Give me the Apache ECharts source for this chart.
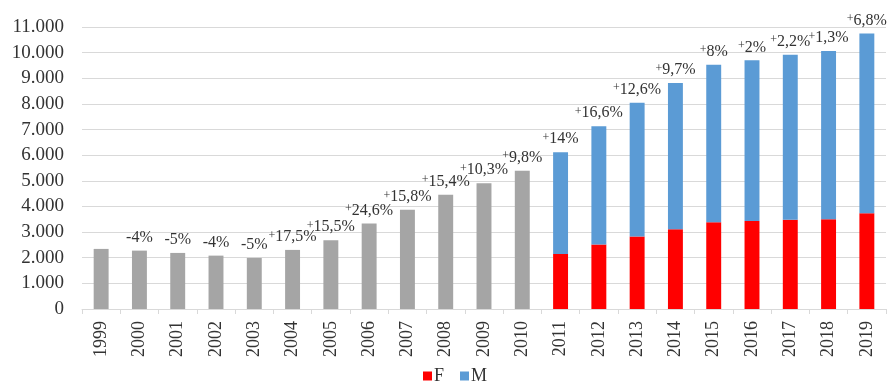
<!DOCTYPE html>
<html>
<head>
<meta charset="utf-8">
<script src="https://cdn.jsdelivr.net/npm/echarts@6/dist/echarts.min.js"></script>
<style>
  html, body { margin: 0; padding: 0; background: #fff; }
  #chart { width: 891px; height: 392px; }
</style>
</head>
<body>
<div id="chart"></div>
<script>
// Years on the category axis
const years = ['1999','2000','2001','2002','2003','2004','2005','2006','2007','2008','2009','2010',
               '2011','2012','2013','2014','2015','2016','2017','2018','2019'];

// Totals for 1999–2010 (no breakdown available)
const totals = [2344, 2277, 2187, 2082, 1992, 2305, 2680, 3332, 3867, 4453, 4906, 5390,
                '-', '-', '-', '-', '-', '-', '-', '-', '-'];

// Breakdown from 2011 onward
const femaleVals = ['-', '-', '-', '-', '-', '-', '-', '-', '-', '-', '-', '-',
                    2148, 2512, 2824, 3109, 3383, 3437, 3477, 3500, 3734];
const maleVals = ['-', '-', '-', '-', '-', '-', '-', '-', '-', '-', '-', '-',
                  3969, 4621, 5223, 5704, 6148, 6262, 6445, 6563, 7008];

// Year-over-year change shown above each bar
const changes = ['', '-4%', '-5%', '-4%', '-5%', '+17,5%', '+15,5%', '+24,6%', '+15,8%', '+15,4%',
                 '+10,3%', '+9,8%', '+14%', '+16,6%', '+12,6%', '+9,7%', '+8%', '+2%', '+2,2%', '+1,3%', '+6,8%'];

// Y-axis tick labels (thousands separated by a dot)
const yTicks = ['0', '1.000', '2.000', '3.000', '4.000', '5.000', '6.000',
                '7.000', '8.000', '9.000', '10.000', '11.000'];

const serif = '"Liberation Serif", "DejaVu Serif", serif';

function changeLabel(p) {
  const t = changes[p.dataIndex];
  if (!t) return '';
  if (t[0] === '+') return '{s|+}{n|' + t.slice(1) + '}';
  return '{n|' + t + '}';
}

const pctLabel = {
  show: true,
  position: 'top',
  distance: 4,
  formatter: changeLabel,
  rich: {
    n: { fontFamily: serif, fontSize: 16, color: '#333', lineHeight: 18 },
    s: { fontFamily: serif, fontSize: 12, color: '#333', lineHeight: 18, padding: [0, 0, 3, 0] }
  }
};

const chart = echarts.init(document.getElementById('chart'), null, { renderer: 'canvas' });
chart.setOption({
  animation: false,
  backgroundColor: '#fff',
  grid: { left: 82, right: 5, top: 27, bottom: 83, containLabel: false },
  legend: {
    data: ['F', 'M'],
    bottom: 2,
    left: 418,
    icon: 'rect',
    itemWidth: 9,
    itemHeight: 9,
    itemGap: 16,
    textStyle: { fontFamily: serif, fontSize: 18, color: '#333', padding: [0, 0, 0, -3] }
  },
  xAxis: {
    type: 'category',
    data: years,
    axisLine: { lineStyle: { color: '#d9d9d9', width: 1 } },
    axisTick: { show: true, length: 5, lineStyle: { color: '#d9d9d9' } },
    axisLabel: { rotate: 90, fontFamily: serif, fontSize: 18, color: '#333', margin: 12 }
  },
  yAxis: {
    type: 'value',
    min: 0,
    max: 11000,
    interval: 1000,
    axisLine: { show: false },
    axisTick: { show: false },
    splitLine: { lineStyle: { color: '#d9d9d9', width: 1 } },
    axisLabel: {
      fontFamily: serif, fontSize: 19, color: '#333', margin: 18,
      formatter: (v) => yTicks[Math.round(v / 1000)]
    }
  },
  series: [
    {
      name: 'Totale',
      type: 'bar',
      stack: 'all',
      barWidth: '39%',
      data: totals,
      itemStyle: { color: '#a5a5a5' },
      label: pctLabel
    },
    {
      name: 'F',
      type: 'bar',
      stack: 'all',
      barWidth: '39%',
      data: femaleVals,
      itemStyle: { color: '#ff0000' }
    },
    {
      name: 'M',
      type: 'bar',
      stack: 'all',
      barWidth: '39%',
      data: maleVals,
      itemStyle: { color: '#5b9bd5' },
      label: pctLabel
    }
  ]
});
</script>
</body>
</html>
